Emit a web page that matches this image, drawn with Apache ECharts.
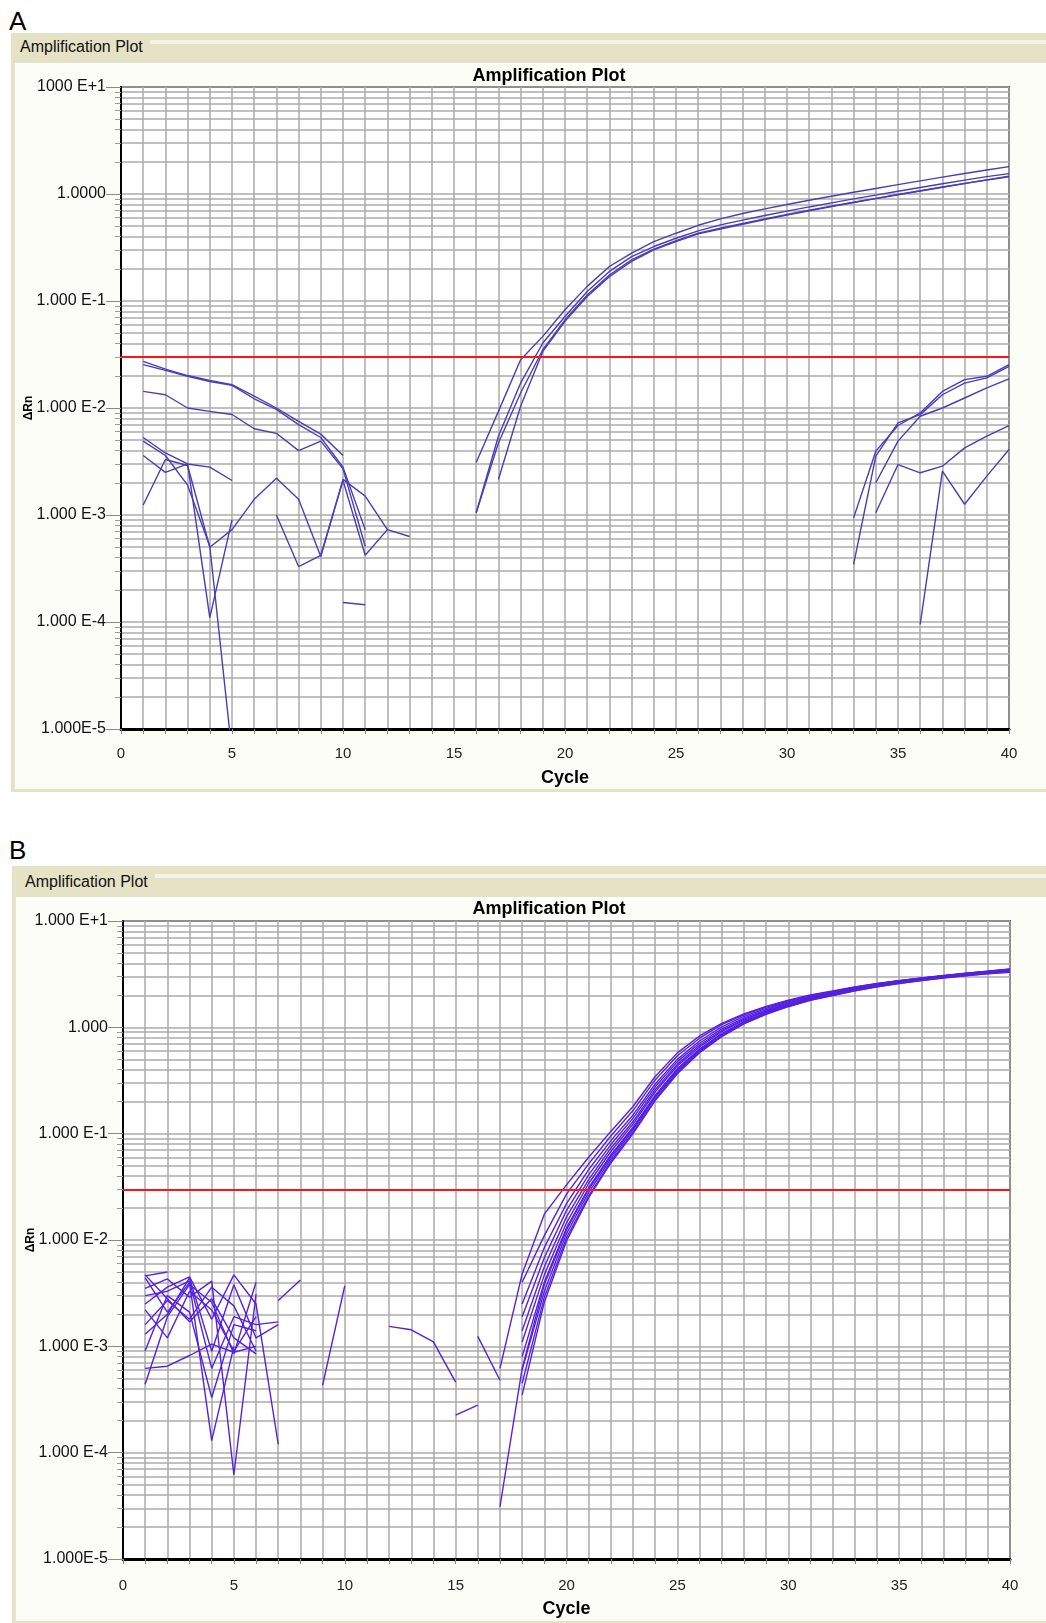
<!DOCTYPE html>
<html>
<head>
<meta charset="utf-8">
<title>Amplification Plot</title>
<script src="https://cdn.jsdelivr.net/npm/echarts@6/dist/echarts.min.js"></script>
<style>
html, body { margin: 0; padding: 0; background: #fff; }
body { position: relative; width: 1046px; height: 1623px; overflow: hidden; font-family: "Liberation Sans", Arial, sans-serif; }
.letter { position: absolute; left: 9px; font-size: 26px; line-height: 26px; color: #000; }
.frame { position: absolute; background: #e6e2c6; }
.inner { position: absolute; background: #fdfdf7; }
.stripe { position: absolute; height: 4px; background: #f5f3e6; }
.head { position: absolute; font-size: 16px; line-height: 16px; color: #111; }
#chart { position: absolute; left: 0; top: 0; width: 1046px; height: 1623px; }
</style>
</head>
<body>
<div class="letter" style="top:8px">A</div>
<div class="frame" style="left:11px; top:33px; width:1035px; height:759px"></div>
<div class="stripe" style="left:150px; top:40px; width:896px"></div>
<div class="inner" style="left:15px; top:63px; width:1031px; height:726px"></div>
<div class="head" style="left:20px; top:39px">Amplification Plot</div>

<div class="letter" style="top:837px">B</div>
<div class="frame" style="left:12px; top:866px; width:1034px; height:757px"></div>
<div class="stripe" style="left:155px; top:874px; width:891px"></div>
<div class="inner" style="left:16px; top:897px; width:1030px; height:724px"></div>
<div class="head" style="left:25px; top:874px">Amplification Plot</div>

<div id="chart"></div>
<script>
var myChart = echarts.init(document.getElementById('chart'));

var FONT = '"Liberation Sans", Arial, Helvetica, sans-serif';
var gridColor = '#ababab';
var colorA = '#4a3db8';
var colorB = '#5520e0';

// y tick labels, one per decade from 1e-5 up to 1e+1
var decades = [0.00001, 0.0001, 0.001, 0.01, 0.1, 1, 10];
var yLabelsA = ['1.000E-5', '1.000 E-4', '1.000 E-3', '1.000 E-2', '1.000 E-1', '1.0000', '1000 E+1'];
var yLabelsB = ['1.000E-5', '1.000 E-4', '1.000 E-3', '1.000 E-2', '1.000 E-1', '1.000', '1.000 E+1'];
var minorSteps = [1, 2, 3, 4, 5, 6, 7, 8, 9];

var thresholdA = 0.0343;
var thresholdB = 0.0325;

// ---- panel A : amplification curves (first cycle + values per cycle)
var aAmpStart = [16, 16, 16, 17];
var aAmp1 = [0.0031, 0.0093, 0.0283, 0.0467, 0.0828, 0.137, 0.21, 0.28, 0.359, 0.43, 0.51, 0.585, 0.658, 0.726, 0.798, 0.873, 0.953, 1.037, 1.127, 1.225, 1.327, 1.439, 1.556, 1.675, 1.803];
var aAmp2 = [0.00105, 0.00545, 0.0171, 0.0405, 0.0717, 0.1227, 0.189, 0.26, 0.323, 0.386, 0.452, 0.514, 0.57, 0.63, 0.692, 0.757, 0.826, 0.90, 0.977, 1.062, 1.151, 1.247, 1.349, 1.452, 1.549];
var aAmp3 = [0.00105, 0.0047, 0.0138, 0.035, 0.0667, 0.114, 0.175, 0.242, 0.305, 0.367, 0.43, 0.478, 0.531, 0.586, 0.644, 0.705, 0.769, 0.838, 0.91, 0.989, 1.072, 1.161, 1.256, 1.352, 1.449];
var aAmp4 = [0.00215, 0.0104, 0.0338, 0.0645, 0.110, 0.169, 0.234, 0.30, 0.359, 0.424, 0.47, 0.521, 0.577, 0.635, 0.697, 0.762, 0.832, 0.906, 0.984, 1.067, 1.156, 1.25, 1.355, 1.469];

// ---- panel A : early noise, [cycle, dRn]
var aE1 = [[1, 0.0273], [2, 0.0231], [3, 0.0201], [4, 0.0181], [5, 0.0165], [6, 0.0129], [7, 0.0100], [8, 0.0075], [9, 0.0057], [10, 0.0036]];
var aE2 = [[1, 0.0254], [2, 0.0225], [3, 0.0198], [4, 0.0177], [5, 0.0163], [6, 0.0122], [7, 0.0097], [8, 0.0070], [9, 0.0053], [10, 0.0028], [11, 0.00073]];
var aE3 = [[1, 0.0143], [2, 0.0133], [3, 0.0100], [4, 0.0093], [5, 0.0087], [6, 0.0064], [7, 0.0058], [8, 0.0040], [9, 0.0049], [10, 0.0027], [11, 0.00051]];
var aE4 = [[1, 0.0053], [2, 0.0038], [3, 0.0030], [4, 0.0028], [5, 0.0021]];
var aE5 = [[1, 0.0049], [2, 0.0036], [3, 0.0019], [4, 0.00051], [5, 0.000006]];
var aE6 = [[1, 0.0036], [2, 0.0025], [3, 0.0030], [4, 0.00011], [5, 0.0009]];
var aE7 = [[1, 0.00124], [2, 0.0033], [3, 0.0029], [4, 0.0005], [5, 0.00073], [6, 0.0014], [7, 0.0022], [8, 0.0014], [9, 0.00041], [10, 0.00215], [11, 0.0015], [12, 0.00073], [13, 0.00063]];
var aE8 = [[7, 0.0010], [8, 0.00033], [9, 0.00042], [10, 0.0021], [11, 0.00042], [12, 0.00073]];
var aE9 = [[10, 0.000152], [11, 0.000145]];

// ---- panel A : late noise
var aL1 = [[33, 0.00094], [34, 0.00395], [35, 0.00686], [36, 0.0090], [37, 0.0143], [38, 0.0184], [39, 0.0198], [40, 0.0254]];
var aL2 = [[33, 0.000346], [34, 0.00355], [35, 0.00726], [36, 0.00867], [37, 0.0133], [38, 0.0171], [39, 0.0191], [40, 0.0245]];
var aL3 = [[34, 0.0020], [35, 0.0049], [36, 0.00837], [37, 0.0100], [38, 0.0124], [39, 0.0154], [40, 0.0187]];
var aL4 = [[34, 0.00105], [35, 0.00296], [36, 0.00248], [37, 0.00286], [38, 0.00424], [39, 0.00545], [40, 0.00686]];
var aL5 = [[36, 0.000095], [37, 0.00257], [38, 0.00126], [39, 0.00231], [40, 0.00409]];

// ---- panel B : amplification curves
var bAmpStart = [17, 18, 18, 18, 18, 18, 18, 18, 18, 17, 18];
var bAmp1 = [0.00062, 0.0048, 0.0175, 0.033, 0.060, 0.105, 0.18, 0.345, 0.575, 0.83, 1.09, 1.34, 1.57, 1.8, 2.02, 2.2, 2.4, 2.58, 2.74, 2.9, 3.05, 3.2, 3.34, 3.48];
var bAmp2 = [0.0040, 0.0110, 0.027, 0.052, 0.095, 0.165, 0.32, 0.54, 0.79, 1.06, 1.31, 1.55, 1.78, 2.0, 2.18, 2.38, 2.57, 2.74, 2.9, 3.06, 3.21, 3.35, 3.5];
var bAmp3 = [0.0025, 0.0085, 0.022, 0.046, 0.086, 0.15, 0.293, 0.50, 0.744, 1.01, 1.265, 1.505, 1.74, 1.97, 2.16, 2.37, 2.56, 2.74, 2.91, 3.07, 3.23, 3.38, 3.55];
var bAmp4 = [0.0019, 0.0068, 0.019, 0.041, 0.079, 0.14, 0.276, 0.476, 0.708, 0.966, 1.221, 1.463, 1.70, 1.93, 2.12, 2.33, 2.53, 2.71, 2.88, 3.04, 3.2, 3.35, 3.5];
var bAmp5 = [0.0014, 0.0056, 0.0165, 0.037, 0.073, 0.13, 0.259, 0.451, 0.678, 0.932, 1.188, 1.431, 1.666, 1.897, 2.09, 2.31, 2.51, 2.7, 2.88, 3.05, 3.21, 3.37, 3.52];
var bAmp6 = [0.0011, 0.0047, 0.0145, 0.034, 0.068, 0.123, 0.247, 0.433, 0.654, 0.909, 1.166, 1.41, 1.646, 1.877, 2.07, 2.28, 2.48, 2.66, 2.83, 2.99, 3.14, 3.28, 3.4];
var bAmp7 = [0.0008, 0.0040, 0.013, 0.031, 0.063, 0.115, 0.23, 0.409, 0.624, 0.874, 1.133, 1.378, 1.615, 1.846, 2.04, 2.26, 2.46, 2.64, 2.81, 2.97, 3.12, 3.26, 3.38];
var bAmp8 = [0.0006, 0.0033, 0.0115, 0.028, 0.058, 0.108, 0.219, 0.39, 0.6, 0.851, 1.111, 1.357, 1.594, 1.826, 2.03, 2.25, 2.46, 2.65, 2.83, 3.0, 3.16, 3.31, 3.45];
var bAmp9 = [0.00045, 0.0029, 0.0105, 0.026, 0.055, 0.103, 0.209, 0.378, 0.588, 0.828, 1.089, 1.336, 1.573, 1.805, 2.0, 2.21, 2.41, 2.59, 2.76, 2.92, 3.07, 3.21, 3.33];
var bAmp10 = [0.000031, 0.00062, 0.0038, 0.0125, 0.030, 0.061, 0.112, 0.225, 0.403, 0.612, 0.863, 1.122, 1.367, 1.604, 1.836, 2.03, 2.24, 2.44, 2.62, 2.79, 2.95, 3.1, 3.24, 3.36];
var bAmp11 = [0.00035, 0.0026, 0.0098, 0.025, 0.053, 0.1, 0.205, 0.366, 0.576, 0.817, 1.078, 1.325, 1.563, 1.795, 1.99, 2.2, 2.4, 2.58, 2.75, 2.9, 3.05, 3.19, 3.3];

// ---- panel B : early noise and stray segments
var bN1 = [[1, 0.00062], [2, 0.00065], [3, 0.00082], [4, 0.00105], [5, 0.00088], [6, 0.0010]];
var bN2 = [[1, 0.0046], [2, 0.0050]];
var bN3 = [[1, 0.0044], [2, 0.0021], [3, 0.0040], [4, 0.00013], [5, 0.0010]];
var bN4 = [[1, 0.0035], [2, 0.0043], [3, 0.0029], [4, 0.0041], [5, 0.000062], [6, 0.0031]];
var bN5 = [[1, 0.0025], [2, 0.0036], [3, 0.0045], [4, 0.0018], [5, 0.0047], [6, 0.0025], [7, 0.00012]];
var bN6 = [[1, 0.0016], [2, 0.0027], [3, 0.0018], [4, 0.0036], [5, 0.0024], [6, 0.0009]];
var bN7 = [[1, 0.0013], [2, 0.0020], [3, 0.0044], [4, 0.0009], [5, 0.0038], [6, 0.0012], [7, 0.0016]];
var bN8 = [[1, 0.00091], [2, 0.0030], [3, 0.0021], [4, 0.00033], [5, 0.0016], [6, 0.0014]];
var bN9 = [[1, 0.00044], [2, 0.0019], [3, 0.0038], [4, 0.0026], [5, 0.00085], [6, 0.0040]];
var bN10 = [[1, 0.0022], [2, 0.0012], [3, 0.0033], [4, 0.0022], [5, 0.0009], [6, 0.0019]];
var bN11 = [[1, 0.0047], [2, 0.0028], [3, 0.0017], [4, 0.0028], [5, 0.0012], [6, 0.00085]];
var bN12 = [[1, 0.0030], [2, 0.0033], [3, 0.0041], [4, 0.00062], [5, 0.0019], [6, 0.0016], [7, 0.0017]];
var bS1 = [[7, 0.0027], [8, 0.0042]];
var bS2 = [[9, 0.00043], [10, 0.0037]];
var bS3 = [[12, 0.00154], [13, 0.00143], [14, 0.0011], [15, 0.00046]];
var bS4 = [[15, 0.000225], [16, 0.00028]];
var bS5 = [[16, 0.00124], [17, 0.00048]];

// log-paper grid: 1..9 times every decade
var logGridValues = [];
decades.slice(0, 6).forEach(function (d) {
    minorSteps.forEach(function (k) { logGridValues.push(k * d); });
});
logGridValues.push(10);

function fromCycle(start, vals) {
    return vals.map(function (v, i) { return [start + i, v]; });
}

function lineSeries(idx, data, color) {
    return {
        type: 'line',
        xAxisIndex: idx,
        yAxisIndex: idx,
        data: data,
        symbol: 'none',
        showSymbol: false,
        silent: true,
        lineStyle: { color: color, width: 1.4 },
        z: 3
    };
}

function thresholdSeries(idx, val) {
    return {
        type: 'line',
        xAxisIndex: idx,
        yAxisIndex: idx,
        data: [],
        silent: true,
        z: 5,
        markLine: {
            silent: true,
            symbol: ['none', 'none'],
            label: { show: false },
            lineStyle: { color: '#ff1414', width: 2, type: 'solid' },
            data: [{ yAxis: val }]
        }
    };
}

function xAxis(idx, gap, margin) {
    return {
        gridIndex: idx,
        type: 'value',
        min: 0,
        max: 40,
        interval: 5,
        name: 'Cycle',
        nameLocation: 'middle',
        nameGap: gap,
        nameTextStyle: { fontFamily: FONT, fontWeight: 'bold', fontSize: 18, color: '#000' },
        axisLine: { show: true, onZero: false, lineStyle: { color: '#000', width: 3 } },
        axisTick: { show: true, length: 5, lineStyle: { color: '#888' } },
        minorTick: { show: true, splitNumber: 5, length: 5, lineStyle: { color: '#888' } },
        axisLabel: { margin: margin, fontFamily: FONT, fontSize: 15, color: '#222' },
        splitLine: { show: true, lineStyle: { color: gridColor, width: 1.5 } },
        minorSplitLine: { show: true, lineStyle: { color: gridColor, width: 1.5 } }
    };
}

function yAxis(idx, labels) {
    return {
        gridIndex: idx,
        type: 'log',
        logBase: 10,
        min: 0.00001,
        max: 10,
        position: 'left',
        name: '\u0394Rn',
        nameLocation: 'middle',
        nameRotate: 90,
        nameGap: 86,
        nameMoveOverlap: false,
        nameTextStyle: { fontFamily: FONT, fontWeight: 'bold', fontSize: 12, color: '#000' },
        axisLine: { show: true, lineStyle: { color: '#000', width: 2 } },
        axisTick: { show: true, length: 6, customValues: logGridValues, lineStyle: { color: '#999' } },
        minorTick: { show: false },
        axisLabel: {
            margin: 15,
            fontFamily: FONT,
            fontSize: 16,
            color: '#111',
            customValues: decades,
            formatter: function (v) {
                var e = Math.round(Math.log(v) / Math.LN10);
                return labels[e + 5];
            }
        },
        splitLine: { show: true, lineStyle: { color: gridColor, width: 1.5 } },
        minorSplitLine: { show: false }
    };
}

// second left axis on each grid only for the long decade ticks
function yMajorTicks(idx) {
    return {
        gridIndex: idx,
        type: 'log',
        logBase: 10,
        min: 0.00001,
        max: 10,
        position: 'left',
        axisLine: { show: false },
        axisTick: { show: true, length: 15, lineStyle: { color: '#888' } },
        axisLabel: { show: false },
        splitLine: { show: false }
    };
}

var series = [];
[aAmp1, aAmp2, aAmp3, aAmp4].forEach(function (vals, i) {
    series.push(lineSeries(0, fromCycle(aAmpStart[i], vals), colorA));
});
[aE1, aE2, aE3, aE4, aE5, aE6, aE7, aE8, aE9, aL1, aL2, aL3, aL4, aL5].forEach(function (d) {
    series.push(lineSeries(0, d, colorA));
});
series.push(thresholdSeries(0, thresholdA));

[bAmp1, bAmp2, bAmp3, bAmp4, bAmp5, bAmp6, bAmp7, bAmp8, bAmp9, bAmp10, bAmp11].forEach(function (vals, i) {
    series.push(lineSeries(1, fromCycle(bAmpStart[i], vals), colorB));
});
[bN1, bN2, bN3, bN4, bN5, bN6, bN7, bN8, bN9, bN10, bN11, bN12, bS1, bS2, bS3, bS4, bS5].forEach(function (d) {
    series.push(lineSeries(1, d, colorB));
});
series.push(thresholdSeries(1, thresholdB));

var titleStyle = { fontFamily: FONT, fontWeight: 'bold', fontSize: 18, color: '#000' };

option = {
    animation: false,
    title: [
        { text: 'Amplification Plot', left: 549, top: 67, textAlign: 'center', padding: 0, textStyle: titleStyle },
        { text: 'Amplification Plot', left: 549, top: 900, textAlign: 'center', padding: 0, textStyle: titleStyle }
    ],
    grid: [
        { left: 121, top: 87, width: 888, height: 642, show: true, backgroundColor: '#fff', borderColor: '#000', borderWidth: 1.5 },
        { left: 123, top: 921, width: 887, height: 638, show: true, backgroundColor: '#fff', borderColor: '#000', borderWidth: 1.5 }
    ],
    xAxis: [xAxis(0, 40, 17), xAxis(1, 41, 19)],
    yAxis: [yAxis(0, yLabelsA), yAxis(1, yLabelsB), yMajorTicks(0), yMajorTicks(1)],
    series: series
};

myChart.setOption(option);
</script>
</body>
</html>
